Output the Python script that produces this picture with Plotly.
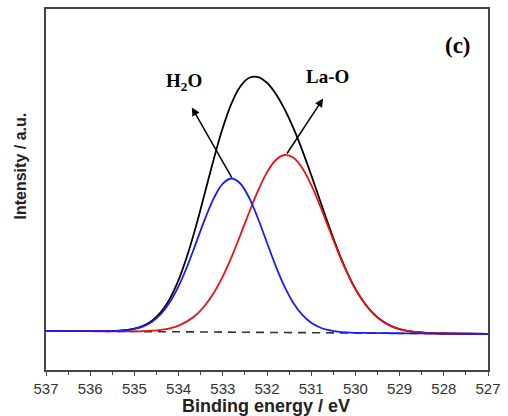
import plotly.graph_objects as go
import numpy as np

# Binding energy grid (eV)
energy = [537.0, 536.5, 536.0,
          535.8, 535.6, 535.4, 535.2, 535.0,
          534.8, 534.6, 534.4, 534.2, 534.0,
          533.8, 533.6, 533.4, 533.2, 533.0,
          532.8, 532.6, 532.4, 532.2, 532.0,
          531.8, 531.6, 531.4, 531.2, 531.0,
          530.8, 530.6, 530.4, 530.2, 530.0,
          529.8, 529.6, 529.4, 529.2, 529.0,
          528.8, 528.6, 528.4, 528.2, 528.0,
          527.5, 527.0]

# Background (dashed line)
background = [0.0, -0.15, -0.3,
              -0.36, -0.42, -0.48, -0.54, -0.6,
              -0.66, -0.72, -0.78, -0.84, -0.9,
              -0.96, -1.02, -1.08, -1.14, -1.2,
              -1.26, -1.32, -1.38, -1.44, -1.5,
              -1.56, -1.62, -1.68, -1.74, -1.8,
              -1.86, -1.92, -1.98, -2.04, -2.1,
              -2.16, -2.22, -2.28, -2.34, -2.4,
              -2.46, -2.52, -2.58, -2.64, -2.7,
              -2.85, -3.0]

# H2O component (above background)
h2o_peak = [0, 0, 0,
            0.1, 0.2, 0.5, 1.2, 2.6,
            5.3, 10.0, 17.8, 29.6, 45.9,
            66.5, 90.1, 114.0, 134.9, 149.3,
            154.5, 149.3, 134.9, 114.0, 90.1,
            66.5, 45.9, 29.6, 17.8, 10.0,
            5.3, 2.6, 1.2, 0.5, 0.2,
            0.1, 0, 0, 0, 0,
            0, 0, 0, 0, 0,
            0, 0]

# La-O component (above background)
lao_peak = [0, 0, 0,
            0, 0, 0, 0.1, 0.2,
            0.5, 1.0, 1.9, 3.5, 6.3,
            10.8, 17.3, 26.9, 39.7, 56.1,
            75.8, 98.0, 121.0, 142.7, 160.9,
            173.4, 178.5, 175.7, 165.3, 148.6,
            127.7, 104.9, 82.3, 61.7, 44.2,
            30.4, 19.9, 12.5, 7.4, 4.2,
            2.3, 1.2, 0.6, 0.3, 0.1,
            0, 0]

x_ticks = [537, 536, 535, 534, 533, 532, 531, 530, 529, 528, 527]

bg = np.array(background)
blue = bg + np.array(h2o_peak)
red = bg + np.array(lao_peak)
envelope = bg + np.array(h2o_peak) + np.array(lao_peak)

fig = go.Figure()
fig.add_trace(go.Scatter(x=[energy[0], energy[-1]], y=[background[0], background[-1]],
                         mode="lines", line=dict(color="#333333", width=1.6, dash="8px,6px"),
                         hoverinfo="skip", showlegend=False))
fig.add_trace(go.Scatter(x=energy, y=envelope, mode="lines",
                         line=dict(color="black", width=1.8, shape="spline", smoothing=1),
                         showlegend=False))
fig.add_trace(go.Scatter(x=energy, y=red, mode="lines",
                         line=dict(color="#ee1111", width=1.8, shape="spline", smoothing=1),
                         showlegend=False))
fig.add_trace(go.Scatter(x=energy, y=blue, mode="lines",
                         line=dict(color="#1a1aff", width=1.8, shape="spline", smoothing=1),
                         showlegend=False))

serif = "Liberation Serif, Times New Roman, serif"
sans = "Liberation Sans, Arial, sans-serif"

annotations = [
    # arrows
    dict(x=533.70, y=224.7, ax=532.78, ay=153.0, xref="x", yref="y", axref="x", ayref="y",
         text="", showarrow=True, arrowhead=2, arrowsize=1.1, arrowwidth=1.5, arrowcolor="black"),
    dict(x=530.73, y=233.7, ax=531.57, ay=176.9, xref="x", yref="y", axref="x", ayref="y",
         text="", showarrow=True, arrowhead=2, arrowsize=1.1, arrowwidth=1.5, arrowcolor="black"),
    # labels
    dict(x=533.88, y=250.7, xref="x", yref="y", text="<b>H<sub>2</sub>O</b>", showarrow=False,
         xanchor="center", yanchor="middle",
         font=dict(family=serif, size=19, color="black")),
    dict(x=530.63, y=255.7, xref="x", yref="y", text="<b>La-O</b>", showarrow=False,
         xanchor="center", yanchor="middle",
         font=dict(family=serif, size=19, color="black")),
    dict(x=527.68, y=286.7, xref="x", yref="y", text="<b>(c)</b>", showarrow=False,
         xanchor="center", yanchor="middle",
         font=dict(family=serif, size=23, color="black")),
    # axis titles
    dict(x=-0.058, y=165.7, xref="paper", yref="y", text="<b>Intensity / a.u.</b>", showarrow=False,
         xanchor="center", yanchor="middle", textangle=-90,
         font=dict(family=sans, size=16, color="#222222")),
    dict(x=532.03, y=-0.1, xref="x", yref="paper", text="<b>Binding energy / eV</b>", showarrow=False,
         xanchor="center", yanchor="middle",
         font=dict(family=sans, size=18, color="#222222")),
]

fig.update_layout(
    width=508, height=416,
    margin=dict(l=46, r=16, t=7, b=46),
    paper_bgcolor="white", plot_bgcolor="white",
    annotations=annotations,
    xaxis=dict(range=[537, 527], tickmode="array", tickvals=x_ticks,
               ticktext=[str(t) for t in x_ticks],
               showline=True, linecolor="#444444", linewidth=1.5, mirror=True,
               ticks="outside", ticklen=4, tickwidth=1.2, tickcolor="#444444",
               minor=dict(dtick=0.5, tick0=527, ticks="outside", ticklen=3, tickwidth=1.2, tickcolor="#444444"),
               showgrid=False, zeroline=False,
               tickfont=dict(family=sans, size=15, color="#333333")),
    yaxis=dict(range=[-39.3, 323.7], showline=True, linecolor="#444444", linewidth=1.5, mirror=True,
               showticklabels=False, ticks="", showgrid=False, zeroline=False),
)

fig.write_html("out.html")
